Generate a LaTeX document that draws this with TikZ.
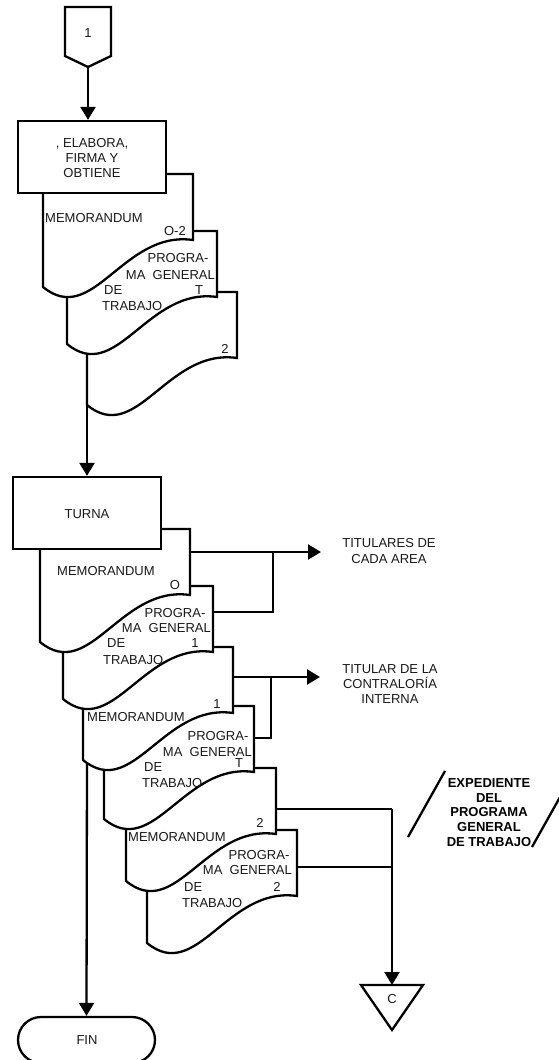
\documentclass[tikz,border=0pt]{standalone}
\usepackage{fontspec}
\setmainfont{Liberation Sans}
\usetikzlibrary{arrows.meta}
\newcommand\docsh[2]{%
  \draw[docbody] (#1,#2) -- ({#1+150},#2) -- ({#1+150},{#2+66})
    .. controls ({#1+80},{#2+56}) and ({#1+50},{#2+154}) .. (#1,{#2+113}) -- cycle;}
\begin{document}
\begin{tikzpicture}[x=1pt,y=-1pt,
  ln/.style={line width=2.3pt,line join=miter},
  arr/.style={ln,-{Triangle[length=13pt,width=15pt]}},
  box/.style={ln,draw,fill=white,rectangle,minimum width=148pt,minimum height=72pt,inner sep=0pt},
  txt/.style={font=\fontsize{13}{15.3}\selectfont,inner sep=0pt,text=black!90},
  btxt/.style={font=\fontsize{13}{14.75}\selectfont\bfseries,inner sep=0pt,align=center},
  docbody/.style={ln,draw,fill=white}]
\useasboundingbox (0,0) rectangle (558,1060);

% off-page connector 1
\draw[ln] (65,7) -- (111,7) -- (111,56) -- (88,67) -- (65,56) -- cycle;
\coordinate (c1s) at (88,67);
\node[txt] (c1) at (88,33) {1};

% top group of documents
\docsh{87}{292}
\docsh{67}{231}
\docsh{43}{174}
\node[box] (b1) at (92,157) {};
\draw[arr] (c1s) -- (c1s |- b1.north);

% main line to TURNA
\coordinate (d3b) at (87,405);
\node[box] (turna) at (87,513) {};
\draw[arr] (d3b) -- (turna.north);

% main line to FIN
\coordinate (d6b) at (87,758);
\node[ln,draw,fill=white,rectangle,rounded corners=23pt,minimum width=137pt,minimum height=46pt,inner sep=0pt] (fin) at (86.5,1040) {};
\draw[arr] (d6b) -- (fin.north);

% right connectors
\coordinate (d4e) at (190,552);
\coordinate (d5e) at (213,612);
\coordinate (j1) at (273,552);
\coordinate (j1b) at (273,612);
\coordinate (t1) at (321,552);
\draw[ln] (d5e) -- (j1b) -- (j1);
\draw[arr] (d4e) -- (t1);

\coordinate (d6e) at (233,677);
\coordinate (d7e) at (254,738);
\coordinate (j2) at (271,677);
\coordinate (j2b) at (271,738);
\coordinate (t2) at (320,677);
\draw[ln] (d7e) -- (j2b) -- (j2);
\draw[arr] (d6e) -- (t2);

\coordinate (d8e) at (276,809);
\coordinate (d9e) at (297,867);
\coordinate (j3) at (392,809);
\coordinate (j4) at (392,867);
\coordinate (ctop) at (392,985);
\draw[ln] (d8e) -- (j3);
\draw[ln] (d9e) -- (j4);
\draw[arr] (j3) -- (ctop);

% off-page connector C
\draw[ln,fill=white] (361,985) -- (423,985) -- (392,1030) -- cycle;
\node[txt] (cC) at (392,999) {C};

% lower group of documents
\docsh{147}{830}
\docsh{126}{768}
\docsh{104}{706}
\docsh{83}{647}
\docsh{63}{586}
\docsh{40}{529}
\node[box] at (turna) {};

% archive slashes
\coordinate (s1a) at (408,837); \coordinate (s1b) at (445,771);
\coordinate (s2a) at (532,847); \coordinate (s2b) at (569,781);
\draw[ln] (s1a) -- (s1b);
\draw[ln] (s2a) -- (s2b);

% texts
\node[txt,align=center] (b1t) at (92,158) {, ELABORA,\\FIRMA Y\\OBTIENE};
\node[txt] (turnat) at (87,514) {TURNA};
\node[txt] (fint) at (87,1040) {FIN};

\node[txt,anchor=west] (m1) at (45,218) {MEMORANDUM};
\node[txt,anchor=east] (m1n) at (186,231) {O-2};
\node[txt] (p1a) at (178,258) {PROGRA-};
\node[txt,anchor=east] (p1b) at (215,275) {MA\ \ GENERAL};
\node[txt,anchor=west] (p1c) at (104,290) {DE};
\node[txt] (p1n) at (199,290) {T};
\node[txt,anchor=west] (p1d) at (102,306) {TRABAJO};
\node[txt] (c3n) at (225,349) {2};

\node[txt,anchor=west] (m2) at (57,571) {MEMORANDUM};
\node[txt] (m2n) at (175,585) {O};
\node[txt] (p2a) at (175,613) {PROGRA-};
\node[txt,anchor=east] (p2b) at (211,628) {MA\ \ GENERAL};
\node[txt,anchor=west] (p2c) at (107,643) {DE};
\node[txt] (p2n) at (195,643) {1};
\node[txt,anchor=west] (p2d) at (103,660) {TRABAJO};

\node[txt] (m3n) at (217,704) {1};
\node[txt,anchor=west] (m3) at (87,717) {MEMORANDUM};
\node[txt] (p3a) at (218,736) {PROGRA-};
\node[txt,anchor=east] (p3b) at (252,752) {MA\ \ GENERAL};
\node[txt,anchor=west] (p3c) at (144,767) {DE};
\node[txt] (p3n) at (239,763) {T};
\node[txt,anchor=west] (p3d) at (142,783) {TRABAJO};

\node[txt] (m4n) at (260,823) {2};
\node[txt,anchor=west] (m4) at (128,837) {MEMORANDUM};
\node[txt] (p4a) at (259,855) {PROGRA-};
\node[txt,anchor=east] (p4b) at (292,870) {MA\ \ GENERAL};
\node[txt,anchor=west] (p4c) at (184,887) {DE};
\node[txt] (p4n) at (277,887) {2};
\node[txt,anchor=west] (p4d) at (182,903) {TRABAJO};

\node[txt,align=center] (dest1) at (389,551) {TITULARES DE\\CADA AREA};
\node[txt,align=center] (dest2) at (390,684) {TITULAR DE LA\\CONTRALORÍA\\INTERNA};
\node[btxt] (arch) at (489,812.5) {EXPEDIENTE\\DEL\\PROGRAMA\\GENERAL\\DE TRABAJO};
\end{tikzpicture}
\end{document}
